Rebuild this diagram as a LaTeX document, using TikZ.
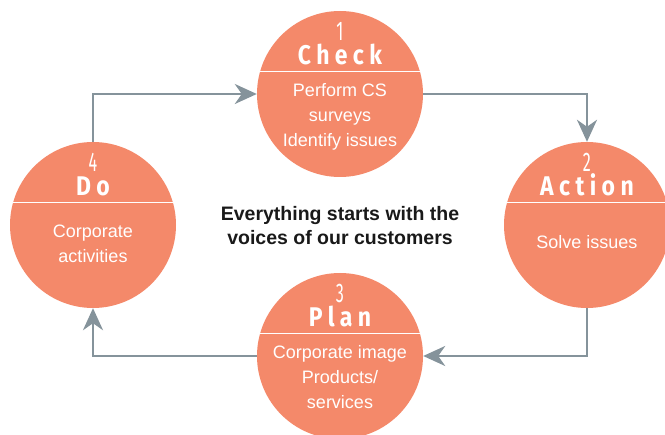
\documentclass[tikz,border=0pt]{standalone}
\usepackage{fontspec}
\setmainfont{Liberation Sans}
\newfontfamily\titlefont[FakeStretch=0.85,LetterSpace=20]{Fira Sans}
\newfontfamily\numfont[FakeStretch=0.6]{Fira Sans}
\usetikzlibrary{
	arrows.meta,
	calc,
	positioning,
}
\definecolor{phasefill}{HTML}{F4896A}
\definecolor{flowgrey}{HTML}{85939B}
\tikzset{
	phase node/.style={
		circle,
		fill=phasefill,
		inner sep=0pt,
		minimum size=166pt,
	},
	phase text/.style={text=white, font=\fontsize{18}{25}\selectfont, align=center, inner sep=0pt},
	phase title/.style={text=white, font=\titlefont\bfseries\fontsize{27}{27}\selectfont, inner sep=0pt, text height=19pt, text depth=0pt, anchor=base},
	phase num/.style={text=white, font=\numfont\fontsize{27}{27}\selectfont, inner sep=0pt, text height=18pt, text depth=0pt, anchor=base},
	flow/.style={draw=flowgrey, line width=2.5pt, -{Stealth[length=22pt,width=20pt,inset=7pt]}},
}

\begin{document}
\begin{tikzpicture}[x=1pt,y=1pt]
\useasboundingbox (0,0) rectangle (665,-435);

\foreach \n/\x/\y/\dy/\nr/\ttl/\txt in {
	check/340/94/23/1/Check/{Perform CS\\surveys\\Identify issues},
	action/587/225/17/2/Action/{Solve issues},
	plan/340/356/21/3/Plan/{Corporate image\\Products/\\services},
	do/93/225/19/4/Do/{Corporate\\activities}%
}{
	\node[phase node] (\n) at (\x,-\y) {};
	\draw[white, line width=1pt] (\n.164) -- (\n.16);
	\node[phase num] (\n-num) at ($(\n.center)+(0,53)$) {\nr};
	\node[phase title] (\n-title) at ($(\n.center)+(0,29)$) {\ttl};
	\node[phase text] (\n-text) at ($(\n.center)+(0,-\dy)$) {\txt};
}

\node[font=\bfseries\fontsize{19.5}{24}\selectfont, align=center, text=black!90] (motto) at (340,-226) {Everything starts with the\\voices of our customers};

\draw[flow] (do.north) |- (check.west);
\draw[flow] (check.east) -| (action.north);
\draw[flow] (action.south) |- (plan.east);
\draw[flow] (plan.west) -| (do.south);
\end{tikzpicture}
\end{document}
